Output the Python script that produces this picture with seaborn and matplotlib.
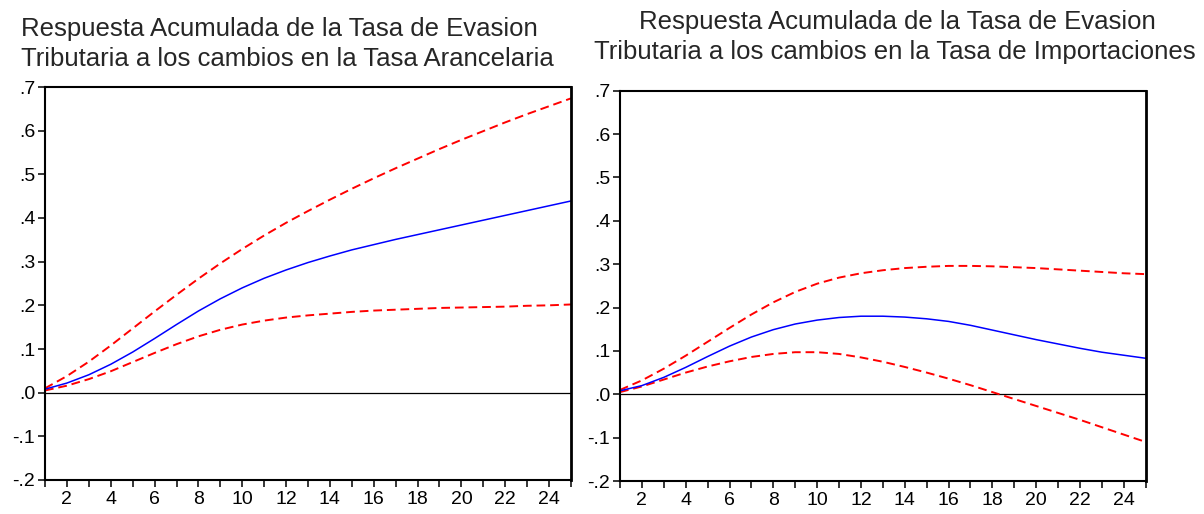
import numpy as np
import pandas as pd
import matplotlib
matplotlib.use("Agg")
import matplotlib.pyplot as plt
import seaborn as sns

# Horizon (periods after the shock)
periods = list(range(1, 26))

# Accumulated response of tax evasion to tariff-rate shocks
arancel_resp = [0.008, 0.022, 0.041, 0.065, 0.093, 0.124, 0.156, 0.187, 0.215, 0.240,
                0.262, 0.281, 0.298, 0.313, 0.327, 0.339, 0.351, 0.362, 0.373, 0.384,
                0.395, 0.406, 0.417, 0.428, 0.439]
arancel_upper = [0.010, 0.038, 0.071, 0.108, 0.147, 0.186, 0.224, 0.261, 0.296, 0.329,
                 0.360, 0.389, 0.416, 0.442, 0.467, 0.491, 0.514, 0.536, 0.558, 0.579,
                 0.599, 0.619, 0.638, 0.656, 0.674]
arancel_lower = [0.005, 0.016, 0.031, 0.049, 0.070, 0.091, 0.111, 0.129, 0.144, 0.156,
                 0.165, 0.172, 0.177, 0.181, 0.185, 0.188, 0.190, 0.192, 0.194, 0.195,
                 0.196, 0.197, 0.199, 0.200, 0.202]

# Accumulated response of tax evasion to import-rate shocks
import_resp = [0.008, 0.020, 0.039, 0.062, 0.087, 0.111, 0.132, 0.149, 0.162, 0.171,
               0.177, 0.180, 0.180, 0.178, 0.174, 0.168, 0.159, 0.148, 0.137, 0.126,
               0.116, 0.106, 0.097, 0.090, 0.083]
import_upper = [0.010, 0.032, 0.059, 0.089, 0.121, 0.153, 0.184, 0.212, 0.236, 0.255,
                0.269, 0.279, 0.286, 0.291, 0.294, 0.296, 0.296, 0.295, 0.293, 0.291,
                0.288, 0.285, 0.282, 0.279, 0.277]
import_lower = [0.005, 0.018, 0.034, 0.050, 0.064, 0.076, 0.086, 0.093, 0.097, 0.097,
                0.093, 0.085, 0.075, 0.063, 0.050, 0.036, 0.021, 0.005, -0.011, -0.027,
                -0.043, -0.059, -0.076, -0.093, -0.110]

y_ticks = [-0.2, -0.1, 0.0, 0.1, 0.2, 0.3, 0.4, 0.5, 0.6, 0.7]
y_tick_labels = ["-.2", "-.1", ".0", ".1", ".2", ".3", ".4", ".5", ".6", ".7"]
x_tick_labels = [str(p) if p % 2 == 0 else "" for p in periods]

titles = [
    ("Respuesta Acumulada de la Tasa de Evasion",
     "Tributaria a los cambios en la Tasa Arancelaria"),
    ("Respuesta Acumulada de la Tasa de Evasion",
     "Tributaria a los cambios en la Tasa de Importaciones"),
]

sns.set_style("ticks")
plt.rcParams["font.family"] = ["Liberation Sans", "DejaVu Sans"]

W, H = 1204, 514
fig = plt.figure(figsize=(W / 100, H / 100), dpi=100)
ax1 = fig.add_axes([45 / W, (H - 480) / H, 526 / W, 393 / H])
ax2 = fig.add_axes([620 / W, (H - 481) / H, 525.7 / W, 390.3 / H])


def draw_panel(ax, resp, upper, lower):
    df = pd.DataFrame({"periodo": periods, "resp": resp, "sup": upper, "inf": lower})
    ax.axhline(0, color="black", linewidth=0.9, zorder=1)
    sns.lineplot(data=df, x="periodo", y="sup", ax=ax, color="#ff0000",
                 linewidth=1.4, linestyle=(0, (4.5, 2.5)))
    sns.lineplot(data=df, x="periodo", y="inf", ax=ax, color="#ff0000",
                 linewidth=1.4, linestyle=(0, (4.5, 2.5)))
    sns.lineplot(data=df, x="periodo", y="resp", ax=ax, color="#0000ff",
                 linewidth=1.1)
    ax.set_xlim(1, 25)
    ax.set_ylim(-0.2, 0.7)
    ax.set_xticks(periods)
    ax.set_xticklabels(x_tick_labels)
    ax.set_yticks(y_ticks)
    ax.set_yticklabels(y_tick_labels)
    ax.set_xlabel("")
    ax.set_ylabel("")
    ax.tick_params(axis="both", direction="out", length=5, width=1.1,
                   labelsize=14, color="black", labelcolor="black")
    ax.tick_params(axis="x", pad=3)
    ax.tick_params(axis="y", pad=2)
    for side in ["left", "bottom", "top", "right"]:
        ax.spines[side].set_visible(True)
        ax.spines[side].set_color("black")
        ax.spines[side].set_linewidth(1.5)
    ax.spines["right"].set_linewidth(2.0)


draw_panel(ax1, arancel_resp, arancel_upper, arancel_lower)
draw_panel(ax2, import_resp, import_upper, import_lower)

# Two-line titles above each panel
for (l1, l2), (c1, c2), base in zip(titles, [(279, 287), (897, 895)], [36, 29]):
    fig.text(c1 / W, 1 - base / H, l1, ha="center", va="baseline", fontsize=18.5)
    fig.text(c2 / W, 1 - (base + 30) / H, l2, ha="center", va="baseline", fontsize=18.5)

fig.savefig("out.png", dpi=100, facecolor="white")
